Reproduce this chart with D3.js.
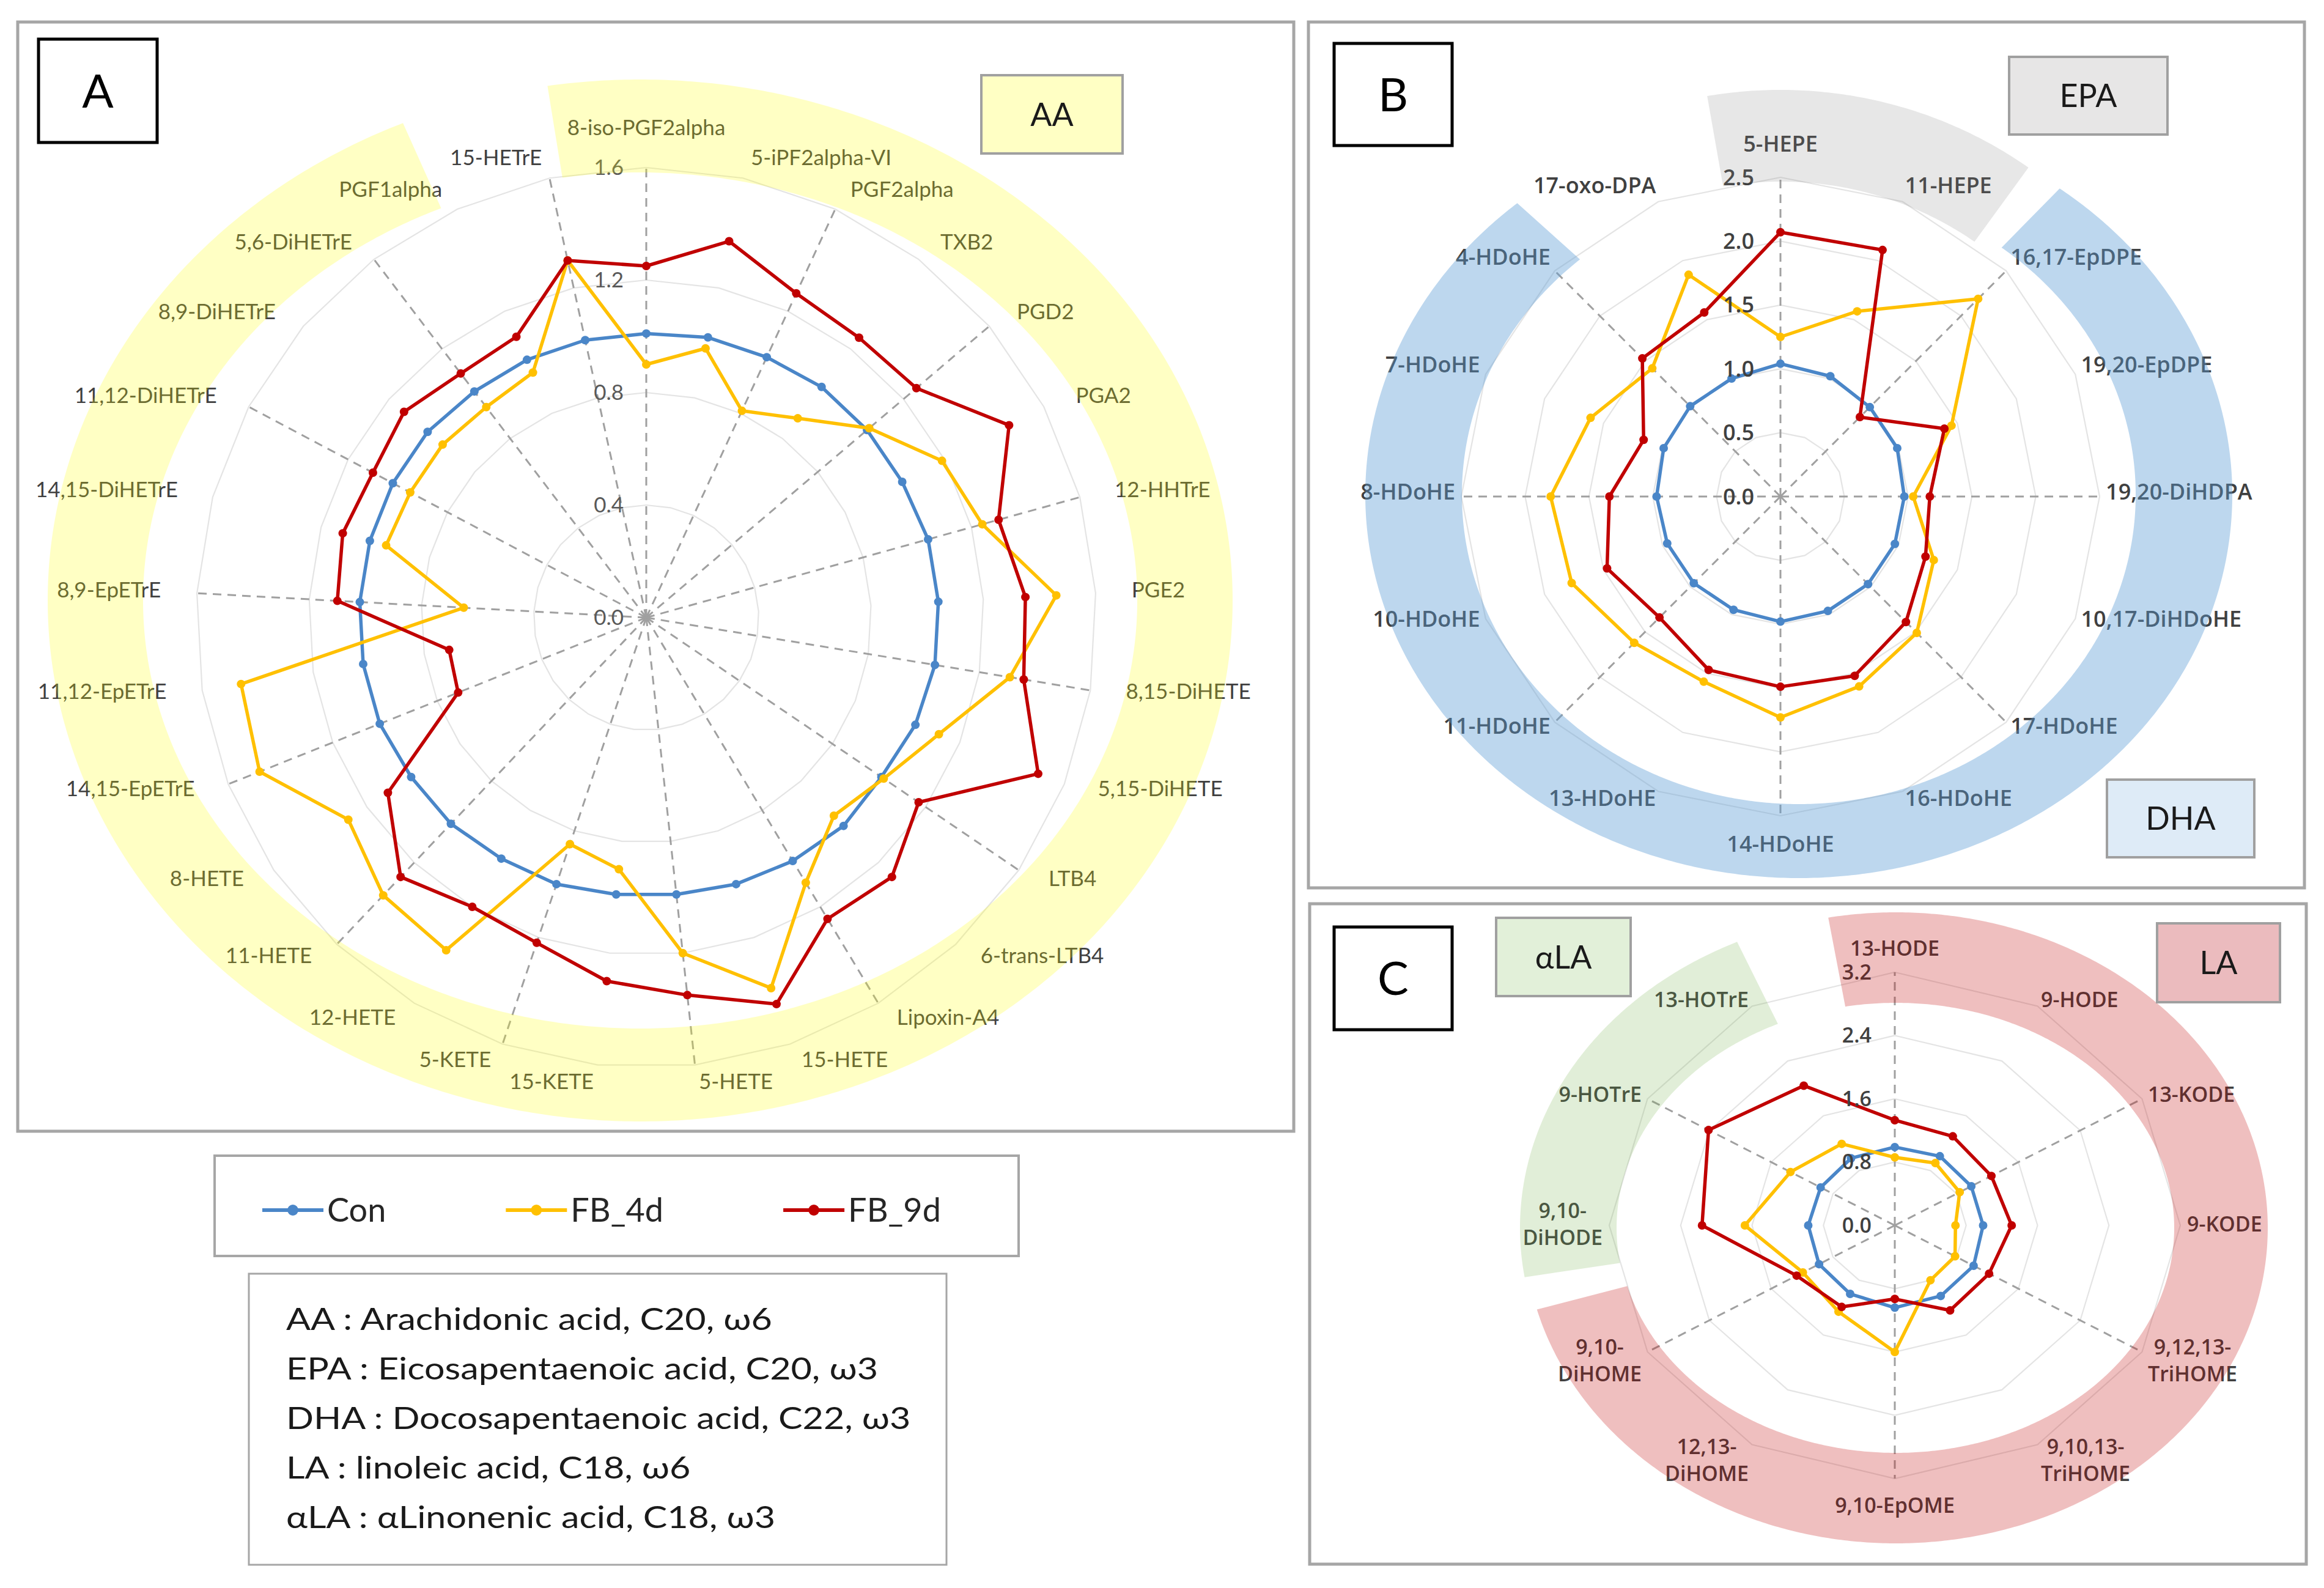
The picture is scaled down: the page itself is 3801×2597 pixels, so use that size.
<!DOCTYPE html>
<html>
<head>
<meta charset="utf-8">
<script src="https://cdn.jsdelivr.net/npm/d3@7/dist/d3.min.js"></script>
<style>
  body { margin: 0; background: #fff; }
  svg { display: block; }
</style>
</head>
<body>
<svg id="fig" width="3801" height="2597"></svg>
<script>
// series shared by all three panels
var seriesNames = ["Con", "FB_4d", "FB_9d"];
var seriesColors = ["#4A86C8", "#FFC000", "#C00000"];

// Panel A : AA metabolites (clockwise from top)
var aaCategories = ["8-iso-PGF2alpha", "5-iPF2alpha-VI", "PGF2alpha", "TXB2", "PGD2", "PGA2",
  "12-HHTrE", "PGE2", "8,15-DiHETE", "5,15-DiHETE", "LTB4", "6-trans-LTB4", "Lipoxin-A4",
  "15-HETE", "5-HETE", "15-KETE", "5-KETE", "12-HETE", "11-HETE", "8-HETE", "14,15-EpETrE",
  "11,12-EpETrE", "8,9-EpETrE", "14,15-DiHETrE", "11,12-DiHETrE", "8,9-DiHETrE",
  "5,6-DiHETrE", "PGF1alpha", "15-HETrE"];
var aaCon = [1.01, 1.02, 1.02, 1.03, 1.03, 1.03, 1.04, 1.04, 1.04, 1.03, 1.01, 1.02, 1.01, 1.00, 0.99,
  0.99, 1.00, 1.00, 1.01, 1.01, 1.02, 1.02, 1.02, 1.02, 1.02, 1.02, 1.01, 1.01, 1.01];
var aaFB4 = [0.90, 0.98, 0.81, 0.89, 1.04, 1.19, 1.24, 1.46, 1.31, 1.12, 1.02, 0.97, 1.10, 1.39, 1.20,
  0.90, 0.85, 1.38, 1.36, 1.28, 1.48, 1.46, 0.65, 0.96, 0.95, 0.95, 0.94, 0.96, 1.30];
var aaFB9 = [1.25, 1.37, 1.27, 1.25, 1.26, 1.46, 1.30, 1.35, 1.36, 1.50, 1.17, 1.27, 1.25, 1.45, 1.35,
  1.30, 1.22, 1.20, 1.27, 1.11, 0.72, 0.71, 1.10, 1.12, 1.10, 1.13, 1.09, 1.10, 1.30];
var aaTicks = [0, 0.4, 0.8, 1.2, 1.6];

// Panel B : EPA / DHA metabolites
var bCategories = ["5-HEPE", "11-HEPE", "16,17-EpDPE", "19,20-EpDPE", "19,20-DiHDPA",
  "10,17-DiHDoHE", "17-HDoHE", "16-HDoHE", "14-HDoHE", "13-HDoHE", "11-HDoHE", "10-HDoHE",
  "8-HDoHE", "7-HDoHE", "4-HDoHE", "17-oxo-DPA"];
var bCon = [1.04, 1.02, 0.99, 0.99, 0.97, 0.97, 0.97, 0.97, 0.98, 0.96, 0.96, 0.96, 0.97, 0.99, 1.00, 1.00];
var bFB4 = [1.25, 1.57, 2.19, 1.45, 1.04, 1.30, 1.51, 1.61, 1.73, 1.57, 1.62, 1.77, 1.80, 1.61, 1.42, 1.88];
var bFB9 = [2.07, 2.09, 0.88, 1.39, 1.17, 1.23, 1.39, 1.52, 1.49, 1.47, 1.34, 1.47, 1.34, 1.16, 1.53, 1.56];
var bTicks = [0, 0.5, 1.0, 1.5, 2.0, 2.5];

// Panel C : LA / alpha-LA metabolites
var cCategories = ["13-HODE", "9-HODE", "13-KODE", "9-KODE", "9,12,13-\nTriHOME", "9,10,13-\nTriHOME",
  "9,10-EpOME", "12,13-\nDiHOME", "9,10-\nDiHOME", "9,10-\nDiHODE", "9-HOTrE", "13-HOTrE"];
var cCon = [0.99, 1.01, 0.99, 0.99, 1.02, 1.03, 1.04, 1.00, 0.98, 0.97, 0.96, 0.98];
var cFB4 = [0.86, 0.91, 0.84, 0.68, 0.78, 0.80, 1.60, 1.26, 1.19, 1.68, 1.35, 1.19];
var cFB9 = [1.33, 1.30, 1.25, 1.31, 1.22, 1.24, 0.93, 1.19, 1.27, 2.16, 2.41, 2.04];
var cTicks = [0, 0.8, 1.6, 2.4, 3.2];

var noteLines = ["AA : Arachidonic acid, C20, \u03c96",
  "EPA : Eicosapentaenoic acid, C20, \u03c93",
  "DHA : Docosapentaenoic acid, C22, \u03c93",
  "LA : linoleic acid, C18, \u03c96",
  "\u03b1LA : \u03b1Linonenic acid, C18, \u03c93"];

var svg = d3.select("#fig");
svg.append("rect").attr("width", 3801).attr("height", 2597).attr("fill", "#fff");

// layout of the three radar panels
var panels = [
  { name: "A", cats: aaCategories, data: [aaCon, aaFB4, aaFB9], ticks: aaTicks,
    frame: [29, 36, 2116, 1850], cx: 1057, cy: 1010, r: 736, kx: 1,
    font: "Lato", weight: 400, size: 35, lineH: 42, tickSize: 35, tickColor: "#595959", tickGap: 37,
    lab: { cy: 1006, lx: 795, ly: 753, top: 31, bot: 34 },
    box: [63, 64, 257, 233] },
  { name: "B", cats: bCategories, data: [bCon, bFB4, bFB9], ticks: bTicks,
    frame: [2140, 36, 3769, 1452], cx: 2912, cy: 812, r: 522, kx: 1,
    font: "Open Sans", weight: 600, size: 36, lineH: 44, tickSize: 36, tickColor: "#404040", tickGap: 43,
    lab: { cy: 804, lx: 532, ly: 528, top: 27, bot: 34 },
    box: [2182, 71, 2375, 238] },
  { name: "C", cats: cCategories, data: [cCon, cFB4, cFB9], ticks: cTicks,
    frame: [2142, 1478, 3772, 2558], cx: 3099, cy: 2004, r: 414, kx: 1.128,
    font: "Open Sans", weight: 600, size: 34, lineH: 44, tickSize: 34, tickColor: "#404040", tickGap: 38,
    lab: { cy: 2002, lx: 478, ly: 410, top: 28, bot: 36 },
    box: [2182, 1516, 2375, 1684] }
];

// translucent group bands drawn over the charts
var bands = [
  { cx: 1047, cy: 982, ro: [969, 852], ri: [813, 700], a0: 351, a1: 696.4, color: "#FFFF00", op: 0.23 },
  { cx: 2912, cy: 812, ro: [690, 665], ri: [540, 515], a0: 350, a1: 396, color: "#7F7F7F", op: 0.19 },
  { cx: 2942, cy: 809, ro: [709, 627], ri: [551, 506], a0: 37, a1: 319.5, color: "#5B9BD5", op: 0.40 },
  { cx: 3101, cy: 2008, ro: [608, 516], ri: [455, 368], a0: 349.5, a1: 615, color: "#C00000", op: 0.25 },
  { cx: 3101, cy: 2008, ro: [615, 516], ri: [457, 368], a0: 261, a1: 335, color: "#70AD47", op: 0.21 }
];

var groupBoxes = [
  { text: "AA", rect: [1605, 123, 1836, 251], fill: "#FFFFC4" },
  { text: "EPA", rect: [3286, 93, 3545, 220], fill: "#E7E6E6" },
  { text: "DHA", rect: [3446, 1275, 3687, 1402], fill: "#DEEBF7" },
  { text: "\u03b1LA", rect: [2447, 1501, 2667, 1629], fill: "#E2F0D9" },
  { text: "LA", rect: [3528, 1510, 3729, 1639], fill: "#EBBBBE" }
];

var layerFrames = svg.append("g");
var layerCharts = svg.append("g");
var layerBands = svg.append("g");
var layerBoxes = svg.append("g");

panels.forEach(function(p) {
  var n = p.cats.length;
  var maxV = p.ticks[p.ticks.length - 1];
  var rScale = d3.scaleLinear().domain([0, maxV]).range([0, p.r]);
  var aScale = d3.scaleLinear().domain([0, n]).range([0, 2 * Math.PI]);
  function pt(i, v) {
    var a = aScale(i), rr = rScale(v);
    return [p.cx + rr * p.kx * Math.sin(a), p.cy - rr * Math.cos(a)];
  }

  layerFrames.append("rect")
    .attr("x", p.frame[0]).attr("y", p.frame[1])
    .attr("width", p.frame[2] - p.frame[0]).attr("height", p.frame[3] - p.frame[1])
    .attr("fill", "none").attr("stroke", "#A6A6A6").attr("stroke-width", 5);

  var g = layerCharts.append("g");
  var idx = d3.range(n);

  // polygon gridlines
  var ring = d3.line().curve(d3.curveLinearClosed);
  p.ticks.filter(function(t) { return t > 0; }).forEach(function(t) {
    g.append("path")
      .attr("d", ring(idx.map(function(i) { return pt(i, t); })))
      .attr("fill", "none").attr("stroke", "#E4E4E4").attr("stroke-width", 2.2);
  });

  // dashed spokes on every other category
  idx.filter(function(i) { return i % 2 === 0; }).forEach(function(i) {
    var e = pt(i, maxV);
    g.append("line").attr("x1", p.cx).attr("y1", p.cy).attr("x2", e[0]).attr("y2", e[1])
      .attr("stroke", "#A0A0A0").attr("stroke-width", 3).attr("stroke-dasharray", "14,10");
  });

  // series
  p.data.forEach(function(vals, s) {
    var pts = vals.map(function(v, i) { return pt(i, v); });
    g.append("path").attr("d", ring(pts))
      .attr("fill", "none").attr("stroke", seriesColors[s]).attr("stroke-width", 5.5)
      .attr("stroke-linejoin", "round");
    g.selectAll(null).data(pts).enter().append("circle")
      .attr("cx", function(d) { return d[0]; }).attr("cy", function(d) { return d[1]; })
      .attr("r", 7).attr("fill", seriesColors[s]);
  });

  // value axis labels
  p.ticks.forEach(function(t) {
    g.append("text")
      .attr("x", p.cx - p.tickGap).attr("y", p.cy - rScale(t))
      .attr("dy", "0.35em").attr("text-anchor", "end")
      .attr("font-family", p.font).attr("font-weight", p.weight)
      .attr("font-size", p.tickSize).attr("fill", p.tickColor)
      .text(d3.format(".1f")(t));
  });

  // category labels
  p.cats.forEach(function(label, i) {
    var a = aScale(i), s = Math.sin(a), c = Math.cos(a);
    var lines = label.split("\n");
    var t = g.append("text")
      .attr("text-anchor", "middle")
      .attr("font-family", p.font).attr("font-weight", p.weight)
      .attr("font-size", p.size).attr("fill", "#404040");
    lines.forEach(function(ln, k) {
      t.append("tspan").attr("x", 0).attr("y", k * p.lineH).text(ln);
    });
    var bb = t.node().getBBox();
    var hVis = p.size * 0.8 + (lines.length - 1) * p.lineH;
    var px = p.cx + s * p.lab.lx, py = p.lab.cy - c * p.lab.ly;
    var bx = px;
    if (s > 0.05) bx = px + bb.width / 2;
    else if (s < -0.05) bx = px - bb.width / 2;
    var by = py - c * hVis / 2;
    if (Math.abs(s) < 0.05) by += (c > 0 ? -p.lab.top : p.lab.bot);
    // centre of the visible block relative to the first baseline
    var midOff = -p.size * 0.36 + (lines.length - 1) * p.lineH / 2;
    t.attr("transform", "translate(" + bx + "," + (by - midOff) + ")");
  });

  // panel letter box
  layerBoxes.append("rect")
    .attr("x", p.box[0]).attr("y", p.box[1])
    .attr("width", p.box[2] - p.box[0]).attr("height", p.box[3] - p.box[1])
    .attr("fill", "#fff").attr("stroke", "#000").attr("stroke-width", 5);
  layerBoxes.append("text")
    .attr("x", (p.box[0] + p.box[2]) / 2).attr("y", (p.box[1] + p.box[3]) / 2)
    .attr("dy", "0.36em").attr("text-anchor", "middle")
    .attr("font-family", "Lato").attr("font-size", 76).attr("fill", "#000")
    .text(p.name);
});

// bands as elliptical annulus sectors
function ellPt(b, r, deg) {
  var t = deg * Math.PI / 180;
  return [b.cx + r[0] * Math.sin(t), b.cy - r[1] * Math.cos(t)];
}
bands.forEach(function(b) {
  var steps = d3.range(b.a0, b.a1, 0.5).concat([b.a1]);
  var outer = steps.map(function(d) { return ellPt(b, b.ro, d); });
  var inner = steps.slice().reverse().map(function(d) { return ellPt(b, b.ri, d); });
  layerBands.append("path")
    .attr("d", d3.line().curve(d3.curveLinearClosed)(outer.concat(inner)))
    .attr("fill", b.color).attr("fill-opacity", b.op).attr("stroke", "none");
});

groupBoxes.forEach(function(gb) {
  var r = gb.rect;
  layerBoxes.append("rect").attr("x", r[0]).attr("y", r[1])
    .attr("width", r[2] - r[0]).attr("height", r[3] - r[1])
    .attr("fill", gb.fill).attr("stroke", "#A0A0A0").attr("stroke-width", 4);
  layerBoxes.append("text")
    .attr("x", (r[0] + r[2]) / 2).attr("y", (r[1] + r[3]) / 2)
    .attr("dy", "0.36em").attr("text-anchor", "middle")
    .attr("font-family", "Lato").attr("font-size", 52).attr("fill", "#1a1a1a")
    .text(gb.text);
});

// legend
var leg = svg.append("g");
leg.append("rect").attr("x", 351).attr("y", 1890).attr("width", 1315).attr("height", 164)
  .attr("fill", "#fff").attr("stroke", "#A6A6A6").attr("stroke-width", 4);
var lx = 429, ly = 1979;
seriesNames.forEach(function(name, s) {
  leg.append("line").attr("x1", lx).attr("x2", lx + 100).attr("y1", ly).attr("y2", ly)
    .attr("stroke", seriesColors[s]).attr("stroke-width", 6);
  leg.append("circle").attr("cx", lx + 50).attr("cy", ly).attr("r", 9).attr("fill", seriesColors[s]);
  var t = leg.append("text").attr("x", lx + 106).attr("y", ly).attr("dy", "0.36em")
    .attr("font-family", "Lato").attr("font-size", 54).attr("fill", "#262626").text(name);
  lx = lx + 106 + t.node().getComputedTextLength() + 196;
});

// abbreviation box (the pasted text is stretched sideways in the figure)
var note = svg.append("g");
note.append("rect").attr("x", 407).attr("y", 2083).attr("width", 1141).attr("height", 476)
  .attr("fill", "#fff").attr("stroke", "#A6A6A6").attr("stroke-width", 3);
var noteText = note.append("g");
noteText.selectAll(null).data(noteLines).enter().append("text")
  .attr("x", 0).attr("y", function(d, i) { return 2157 + i * 81; })
  .attr("dy", "0.36em")
  .attr("font-family", "Lato").attr("font-size", 50).attr("fill", "#1a1a1a")
  .text(function(d) { return d; });
var firstLen = noteText.select("text").node().getComputedTextLength();
noteText.attr("transform", "translate(468,0) scale(" + (795 / firstLen) + ",1)");
</script>
</body>
</html>
